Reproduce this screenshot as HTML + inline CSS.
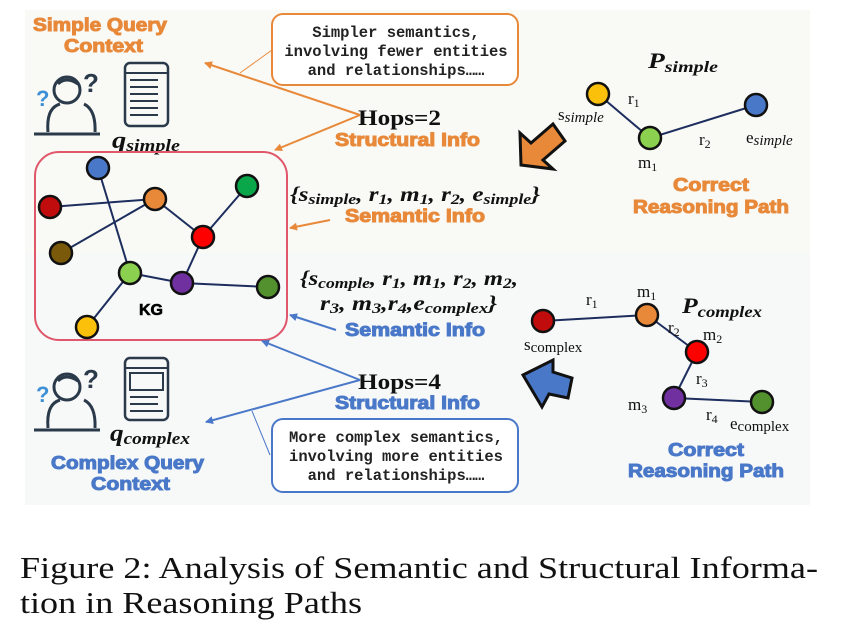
<!DOCTYPE html>
<html><head><meta charset="utf-8"><style>
html,body{margin:0;padding:0;background:#fff;width:842px;height:630px;overflow:hidden}
svg{display:block}
.hd{font-family:"Liberation Sans",sans-serif;font-weight:bold;font-size:18px;stroke-width:1px}
.o{fill:#e8893a;stroke:#e8893a}
.b{fill:#4a78c8;stroke:#4a78c8}
.mono{font-family:"Liberation Mono",monospace;font-size:15.5px;font-weight:bold;fill:#222}
.ser{font-family:"Liberation Serif",serif;fill:#111}
.n{stroke:#111;stroke-width:2.5}
.e{stroke:#1d2e5e;stroke-width:2}
</style></head><body>
<svg width="842" height="630" viewBox="0 0 842 630" xmlns="http://www.w3.org/2000/svg">
<defs>
<marker id="ao" markerWidth="8" markerHeight="8" refX="7" refY="4" orient="auto" markerUnits="userSpaceOnUse"><path d="M0,0 L8,4 L0,8 z" fill="#e8893a"/></marker>
<marker id="ab" markerWidth="8" markerHeight="8" refX="7" refY="4" orient="auto" markerUnits="userSpaceOnUse"><path d="M0,0 L8,4 L0,8 z" fill="#4a78c8"/></marker>
</defs>
<rect x="25" y="10" width="785" height="243" fill="#f9f9f5"/>
<rect x="25" y="253" width="785" height="252" fill="#f7f8f8"/>

<text class="hd o" x="33" y="31" textLength="134" lengthAdjust="spacingAndGlyphs">Simple Query</text>
<text class="hd o" x="64" y="52" textLength="79" lengthAdjust="spacingAndGlyphs">Context</text>
<g fill="none" stroke="#2b3a4a" stroke-width="3">
<circle cx="67" cy="90" r="13"/>
<path d="M48,132 Q46,108 60,104 M84,104 Q96,110 95,132 M34,134 H100"/>
<path d="M58,84 Q66,76 78,84"/>
</g>
<text x="36" y="106" font-family="Liberation Sans,sans-serif" font-weight="bold" font-size="22" fill="#3d8fd6">?</text>
<text x="83" y="92" font-family="Liberation Sans,sans-serif" font-weight="bold" font-size="26" fill="#2b3a4a">?</text>
<rect x="125" y="63" width="43" height="63" rx="5" fill="none" stroke="#2b3a4a" stroke-width="2.5"/>
<line x1="125" y1="73" x2="168" y2="73" stroke="#2b3a4a" stroke-width="2"/>
<g stroke="#2b3a4a" stroke-width="2"><line x1="130" y1="80" x2="158" y2="80"/><line x1="130" y1="87" x2="158" y2="87"/><line x1="130" y1="94" x2="158" y2="94"/><line x1="130" y1="101" x2="158" y2="101"/><line x1="130" y1="108" x2="158" y2="108"/><line x1="130" y1="115" x2="158" y2="115"/></g>
<text class="ser" x="112" y="148" font-size="24" font-style="italic" font-weight="bold" textLength="68" lengthAdjust="spacingAndGlyphs">q<tspan font-size="17" dy="3">simple</tspan></text>

<rect x="272" y="14" width="246" height="71" rx="11" fill="#fff" stroke="#e8893a" stroke-width="2"/>
<text class="mono" x="396" y="37" text-anchor="middle">Simpler semantics,</text>
<text class="mono" x="396" y="56" text-anchor="middle">involving fewer entities</text>
<text class="mono" x="396" y="75" text-anchor="middle">and relationships……</text>
<line x1="272" y1="50" x2="240" y2="73" stroke="#e8893a" stroke-width="1"/>
<line x1="360" y1="115" x2="205" y2="63" stroke="#e8893a" stroke-width="2" marker-end="url(#ao)"/>
<line x1="360" y1="115" x2="275" y2="150" stroke="#e8893a" stroke-width="2" marker-end="url(#ao)"/>
<text class="ser" x="358" y="125" font-size="22" font-weight="bold" textLength="83" lengthAdjust="spacingAndGlyphs">Hops=2</text>
<text class="hd o" x="335" y="146" textLength="145" lengthAdjust="spacingAndGlyphs">Structural Info</text>

<rect x="35" y="152" width="252" height="188" rx="24" fill="none" stroke="#e0566b" stroke-width="2"/>
<g class="e">
<line x1="98" y1="168" x2="130" y2="273"/><line x1="50" y1="207" x2="155" y2="199"/><line x1="155" y1="199" x2="61" y2="253"/><line x1="155" y1="199" x2="203" y2="237"/><line x1="203" y1="237" x2="247" y2="186"/><line x1="203" y1="237" x2="182" y2="283"/><line x1="130" y1="273" x2="182" y2="283"/><line x1="182" y1="283" x2="268" y2="287"/><line x1="130" y1="273" x2="87" y2="327"/>
</g>
<g class="n">
<circle cx="98" cy="168" r="11" fill="#4a78c8"/><circle cx="50" cy="207" r="11" fill="#c00c0c"/><circle cx="155" cy="199" r="11" fill="#e8893a"/><circle cx="247" cy="186" r="11" fill="#0aa64a"/><circle cx="203" cy="237" r="11" fill="#f00"/><circle cx="61" cy="253" r="11" fill="#7a5a0a"/><circle cx="130" cy="273" r="11" fill="#8cd050"/><circle cx="182" cy="283" r="11" fill="#7030a0"/><circle cx="268" cy="287" r="11" fill="#53902e"/><circle cx="87" cy="327" r="11" fill="#fbc00a"/>
</g>
<text x="139" y="315" font-family="Liberation Sans,sans-serif" font-weight="bold" font-size="16" stroke="#000" stroke-width="0.6">KG</text>

<text class="ser" x="290" y="201" font-size="21" font-weight="bold" font-style="italic" textLength="250" lengthAdjust="spacingAndGlyphs">{s<tspan font-size="15" dy="3">simple</tspan><tspan dy="-3">, r</tspan><tspan font-size="15" dy="3">1</tspan><tspan dy="-3">, m</tspan><tspan font-size="15" dy="3">1</tspan><tspan dy="-3">, r</tspan><tspan font-size="15" dy="3">2</tspan><tspan dy="-3">, e</tspan><tspan font-size="15" dy="3">simple</tspan><tspan dy="-3">}</tspan></text>
<text class="hd o" x="345" y="222" textLength="140" lengthAdjust="spacingAndGlyphs">Semantic Info</text>
<line x1="330" y1="220" x2="290" y2="228" stroke="#e8893a" stroke-width="2" marker-end="url(#ao)"/>

<text class="ser" x="300" y="285" font-size="21" font-weight="bold" font-style="italic" textLength="218" lengthAdjust="spacingAndGlyphs">{s<tspan font-size="15" dy="3">comple</tspan><tspan dy="-3">, r</tspan><tspan font-size="15" dy="3">1</tspan><tspan dy="-3">, m</tspan><tspan font-size="15" dy="3">1</tspan><tspan dy="-3">, r</tspan><tspan font-size="15" dy="3">2</tspan><tspan dy="-3">, m</tspan><tspan font-size="15" dy="3">2</tspan><tspan dy="-3">,</tspan></text>
<text class="ser" x="320" y="310" font-size="21" font-weight="bold" font-style="italic" textLength="177" lengthAdjust="spacingAndGlyphs">r<tspan font-size="15" dy="3">3</tspan><tspan dy="-3">, m</tspan><tspan font-size="15" dy="3">3</tspan><tspan dy="-3">,r</tspan><tspan font-size="15" dy="3">4</tspan><tspan dy="-3">,e</tspan><tspan font-size="15" dy="3">complex</tspan><tspan dy="-3">}</tspan></text>
<text class="hd b" x="345" y="336" textLength="140" lengthAdjust="spacingAndGlyphs">Semantic Info</text>
<line x1="336" y1="330" x2="290" y2="315" stroke="#4a78c8" stroke-width="2" marker-end="url(#ab)"/>

<text class="ser" x="358" y="389" font-size="22" font-weight="bold" textLength="83" lengthAdjust="spacingAndGlyphs">Hops=4</text>
<text class="hd b" x="335" y="409" textLength="145" lengthAdjust="spacingAndGlyphs">Structural Info</text>
<line x1="360" y1="380" x2="262" y2="341" stroke="#4a78c8" stroke-width="2" marker-end="url(#ab)"/>
<line x1="360" y1="380" x2="206" y2="422" stroke="#4a78c8" stroke-width="2" marker-end="url(#ab)"/>
<line x1="252" y1="411" x2="270" y2="455" stroke="#4a78c8" stroke-width="1"/>

<rect x="272" y="419" width="246" height="73" rx="11" fill="#fff" stroke="#4a78c8" stroke-width="2"/>
<text class="mono" x="396" y="442" text-anchor="middle">More complex semantics,</text>
<text class="mono" x="396" y="461" text-anchor="middle">involving more entities</text>
<text class="mono" x="396" y="480" text-anchor="middle">and relationships……</text>

<g fill="none" stroke="#2b3a4a" stroke-width="3">
<circle cx="67" cy="387" r="13"/>
<path d="M48,428 Q46,404 60,400 M84,400 Q96,406 95,428 M34,430 H100"/>
<path d="M58,381 Q66,373 78,381"/>
</g>
<text x="36" y="402" font-family="Liberation Sans,sans-serif" font-weight="bold" font-size="22" fill="#3d8fd6">?</text>
<text x="83" y="388" font-family="Liberation Sans,sans-serif" font-weight="bold" font-size="26" fill="#2b3a4a">?</text>
<rect x="125" y="358" width="43" height="62" rx="5" fill="none" stroke="#2b3a4a" stroke-width="2.5"/>
<line x1="125" y1="368" x2="168" y2="368" stroke="#2b3a4a" stroke-width="2"/>
<rect x="130" y="373" width="33" height="17" fill="none" stroke="#2b3a4a" stroke-width="2"/>
<g stroke="#2b3a4a" stroke-width="2"><line x1="130" y1="397" x2="158" y2="397"/><line x1="130" y1="404" x2="158" y2="404"/><line x1="130" y1="411" x2="163" y2="411"/></g>
<text class="ser" x="110" y="441" font-size="24" font-style="italic" font-weight="bold" textLength="80" lengthAdjust="spacingAndGlyphs">q<tspan font-size="17" dy="3">complex</tspan></text>
<text class="hd b" x="51" y="469" textLength="153" lengthAdjust="spacingAndGlyphs">Complex Query</text>
<text class="hd b" x="91" y="490" textLength="79" lengthAdjust="spacingAndGlyphs">Context</text>

<text class="ser" x="648" y="68" font-size="22" font-weight="bold" font-style="italic" textLength="70" lengthAdjust="spacingAndGlyphs">P<tspan font-size="16" dy="4">simple</tspan></text>
<g class="e"><line x1="598" y1="94" x2="650" y2="138"/><line x1="650" y1="138" x2="756" y2="105"/></g>
<g class="n"><circle cx="598" cy="94" r="11" fill="#fbc00a"/><circle cx="650" cy="138" r="11" fill="#8cd050"/><circle cx="756" cy="105" r="11" fill="#4a78c8"/></g>
<text class="ser" x="558" y="120" font-size="17">s<tspan font-style="italic" font-size="15" dy="2">simple</tspan></text>
<text class="ser" x="628" y="104" font-size="17">r<tspan font-size="12" dy="3">1</tspan></text>
<text class="ser" x="699" y="145" font-size="17">r<tspan font-size="12" dy="3">2</tspan></text>
<text class="ser" x="746" y="143" font-size="17">e<tspan font-style="italic" font-size="15" dy="2">simple</tspan></text>
<text class="ser" x="638" y="168" font-size="17">m<tspan font-size="12" dy="3">1</tspan></text>
<text class="hd o" x="673" y="191" textLength="76" lengthAdjust="spacingAndGlyphs">Correct</text>
<text class="hd o" x="633" y="213" textLength="156" lengthAdjust="spacingAndGlyphs">Reasoning Path</text>
<path d="M521,165 L520,133 L531,143 L553,124 L565,141 L543,160 L553,169 Z" fill="#e8893a" stroke="#111" stroke-width="3" stroke-linejoin="miter"/>

<text class="ser" x="682" y="313" font-size="22" font-weight="bold" font-style="italic" textLength="80" lengthAdjust="spacingAndGlyphs">P<tspan font-size="16" dy="4">complex</tspan></text>
<g class="e"><line x1="543" y1="321" x2="647" y2="315"/><line x1="647" y1="315" x2="697" y2="352"/><line x1="697" y1="352" x2="674" y2="398"/><line x1="674" y1="398" x2="762" y2="402"/></g>
<g class="n"><circle cx="543" cy="321" r="11" fill="#c00c0c"/><circle cx="647" cy="315" r="11" fill="#e8893a"/><circle cx="697" cy="352" r="11" fill="#f00"/><circle cx="674" cy="398" r="11" fill="#7030a0"/><circle cx="762" cy="402" r="11" fill="#53902e"/></g>
<text class="ser" x="637" y="297" font-size="17">m<tspan font-size="12" dy="3">1</tspan></text>
<text class="ser" x="586" y="305" font-size="17">r<tspan font-size="12" dy="3">1</tspan></text>
<text class="ser" x="668" y="333" font-size="17">r<tspan font-size="12" dy="3">2</tspan></text>
<text class="ser" x="703" y="340" font-size="17">m<tspan font-size="12" dy="3">2</tspan></text>
<text class="ser" x="524" y="350" font-size="17">s<tspan font-size="15" dy="2">complex</tspan></text>
<text class="ser" x="696" y="384" font-size="17">r<tspan font-size="12" dy="3">3</tspan></text>
<text class="ser" x="628" y="410" font-size="17">m<tspan font-size="12" dy="3">3</tspan></text>
<text class="ser" x="706" y="420" font-size="17">r<tspan font-size="12" dy="3">4</tspan></text>
<text class="ser" x="730" y="429" font-size="17">e<tspan font-size="15" dy="2">complex</tspan></text>
<text class="hd b" x="668" y="456" textLength="76" lengthAdjust="spacingAndGlyphs">Correct</text>
<text class="hd b" x="628" y="477" textLength="156" lengthAdjust="spacingAndGlyphs">Reasoning Path</text>
<path d="M523,375 L553,360 L553,372 L572,378 L568,398 L549,394 L542,407 Z" fill="#4a78c8" stroke="#111" stroke-width="3"/>

<text class="ser" x="20" y="578" font-size="31" textLength="798" lengthAdjust="spacingAndGlyphs">Figure 2: Analysis of Semantic and Structural Informa-</text>
<text class="ser" x="20" y="613" font-size="31" textLength="342" lengthAdjust="spacingAndGlyphs">tion in Reasoning Paths</text>
</svg>
</body></html>
